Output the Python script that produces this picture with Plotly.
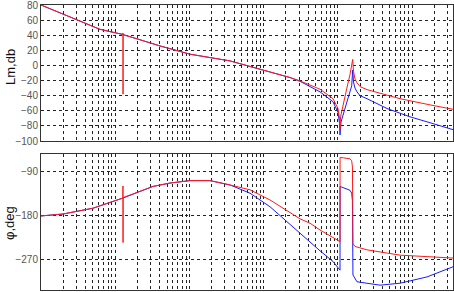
import plotly.graph_objects as go

# ---- data (frequency in rad/s, log scale) ----
mag_red_w = [0.1, 0.198, 0.335, 0.624, 0.851, 1.266, 1.270, 1.272, 1.276, 1.280, 2.16, 4.02, 10.2, 18.95,
             35.3, 89.4, 166, 227, 309.5, 422, 576, 861, 1006, 1055, 1071, 1090, 1175, 1318, 1460, 1539,
             1588, 1628, 1706, 1815, 1992, 2475, 3705, 6893, 19190, 35690]
mag_red_db = [80, 68, 59, 47.8, 44.8, 41.2, 41, 43, -38, 40.6, 34, 25.8, 14.9, 10.5,
              6, -5, -12, -16, -20.5, -26, -31.5, -44, -57, -70, -85, -68, -55, -31, -12, -2,
              8, -8, -18, -23, -28, -32, -37, -44, -53, -58]

mag_blue_w = [0.1, 0.198, 0.335, 0.624, 0.851, 1.274, 2.16, 4.02, 10.2, 18.95, 35.3, 89.4, 166, 227,
              309.5, 422, 576, 861, 1006, 1055, 1071, 1104, 1318, 1460, 1539, 1588, 1628, 1706, 1815,
              1992, 2475, 4605, 9398, 19190, 35690]
mag_blue_db = [80, 68, 59, 47.8, 44.8, 41, 34, 25.8, 14.9, 10.5, 6, -5, -12, -16,
               -21, -28, -35, -48, -62, -77, -92, -75, -48, -36, -27, -6, -22, -30, -35,
               -40, -44, -57, -68, -77, -85]

ph_red_w = [0.1, 0.198, 0.502, 1.266, 1.270, 1.272, 1.276, 1.280, 3.23, 5.48, 10.2, 18.95, 35.3, 65.6,
            122, 166, 227, 309.5, 422, 576, 1071, 1073, 1200, 1460, 1539, 1575, 1600, 1706, 2475,
            6893, 35690]
ph_red_deg = [-181, -177, -165, -145, -144, -119, -236, -143, -120, -113, -108, -108, -117, -127,
              -148, -161, -175, -187, -196, -210, -234, -60, -61, -63, -67, -80, -238, -244, -251,
              -262, -268]

ph_blue_w = [0.1, 0.198, 0.502, 1.274, 3.23, 5.48, 10.2, 18.95, 35.3, 65.6, 122, 166, 227, 309.5,
             422, 576, 861, 1071, 1073, 1300, 1460, 1539, 1575, 1600, 1815, 3705, 6893, 15930, 35690]
ph_blue_deg = [-181, -177, -165, -144, -120, -113, -108, -108, -117, -134, -162, -180, -199, -217,
               -236, -253, -275, -293, -120, -124, -128, -134, -150, -303, -317, -324, -320, -307, -286]

mag_ticks = [-100, -80, -60, -40, -20, 0, 20, 40, 60, 80]
ph_ticks = [-270, -180, -90]

# ---- figure ----
W, H = 454, 292
L, R, T, B = 41, 1, 5, 2
plot_h = H - T - B

def yfrac(py):
    return (H - B - py) / plot_h

fig = go.Figure()
grid = dict(showgrid=True, gridcolor="#222", griddash="dot", gridwidth=1)
frame = dict(showline=True, mirror=True, linecolor="#333", linewidth=1, zeroline=False, automargin=False)

fig.add_trace(go.Scatter(x=mag_blue_w, y=mag_blue_db, mode="lines", line=dict(color="#1a1aff", width=1),
                         xaxis="x", yaxis="y", showlegend=False))
fig.add_trace(go.Scatter(x=mag_red_w, y=mag_red_db, mode="lines", line=dict(color="#ff1a1a", width=1),
                         xaxis="x", yaxis="y", showlegend=False))
fig.add_trace(go.Scatter(x=ph_blue_w, y=ph_blue_deg, mode="lines", line=dict(color="#1a1aff", width=1),
                         xaxis="x2", yaxis="y2", showlegend=False))
fig.add_trace(go.Scatter(x=ph_red_w, y=ph_red_deg, mode="lines", line=dict(color="#ff1a1a", width=1),
                         xaxis="x2", yaxis="y2", showlegend=False))

xcommon = dict(type="log", range=[-1, 4.5526], dtick="D1", showticklabels=False, ticks="", **grid, **frame)
tickfont = dict(family="Liberation Sans, Arial", size=10, color="#555")
titlefont = dict(family="Liberation Sans, Arial", size=13, color="#111")

fig.update_layout(
    width=W, height=H,
    margin=dict(l=L, r=R, t=T, b=B),
    paper_bgcolor="white", plot_bgcolor="white",
    xaxis=dict(domain=[0, 1], anchor="y", **xcommon),
    xaxis2=dict(domain=[0, 1], anchor="y2", **xcommon),
    yaxis=dict(domain=[yfrac(141), 1], range=[-100, 80], tickvals=mag_ticks, ticks="",
               ticklabeloverflow="allow", tickfont=tickfont, **grid, **frame),
    yaxis2=dict(domain=[0, yfrac(154)], range=[-334, -53], tickvals=ph_ticks, ticks="",
                ticklabeloverflow="allow", tickfont=tickfont, **grid, **frame),
    annotations=[
        dict(text="Lm,db", xref="paper", yref="paper", x=(10 - L) / (W - L - R), y=yfrac(67),
             xanchor="center", yanchor="middle", textangle=-90, showarrow=False, font=titlefont),
        dict(text="φ,deg", xref="paper", yref="paper", x=(10 - L) / (W - L - R), y=yfrac(223),
             xanchor="center", yanchor="middle", textangle=-90, showarrow=False, font=titlefont),
    ],
)

fig.write_html("out.html", config={"displayModeBar": False},
               post_script="document.body.style.margin='0';document.body.style.overflow='hidden';")
